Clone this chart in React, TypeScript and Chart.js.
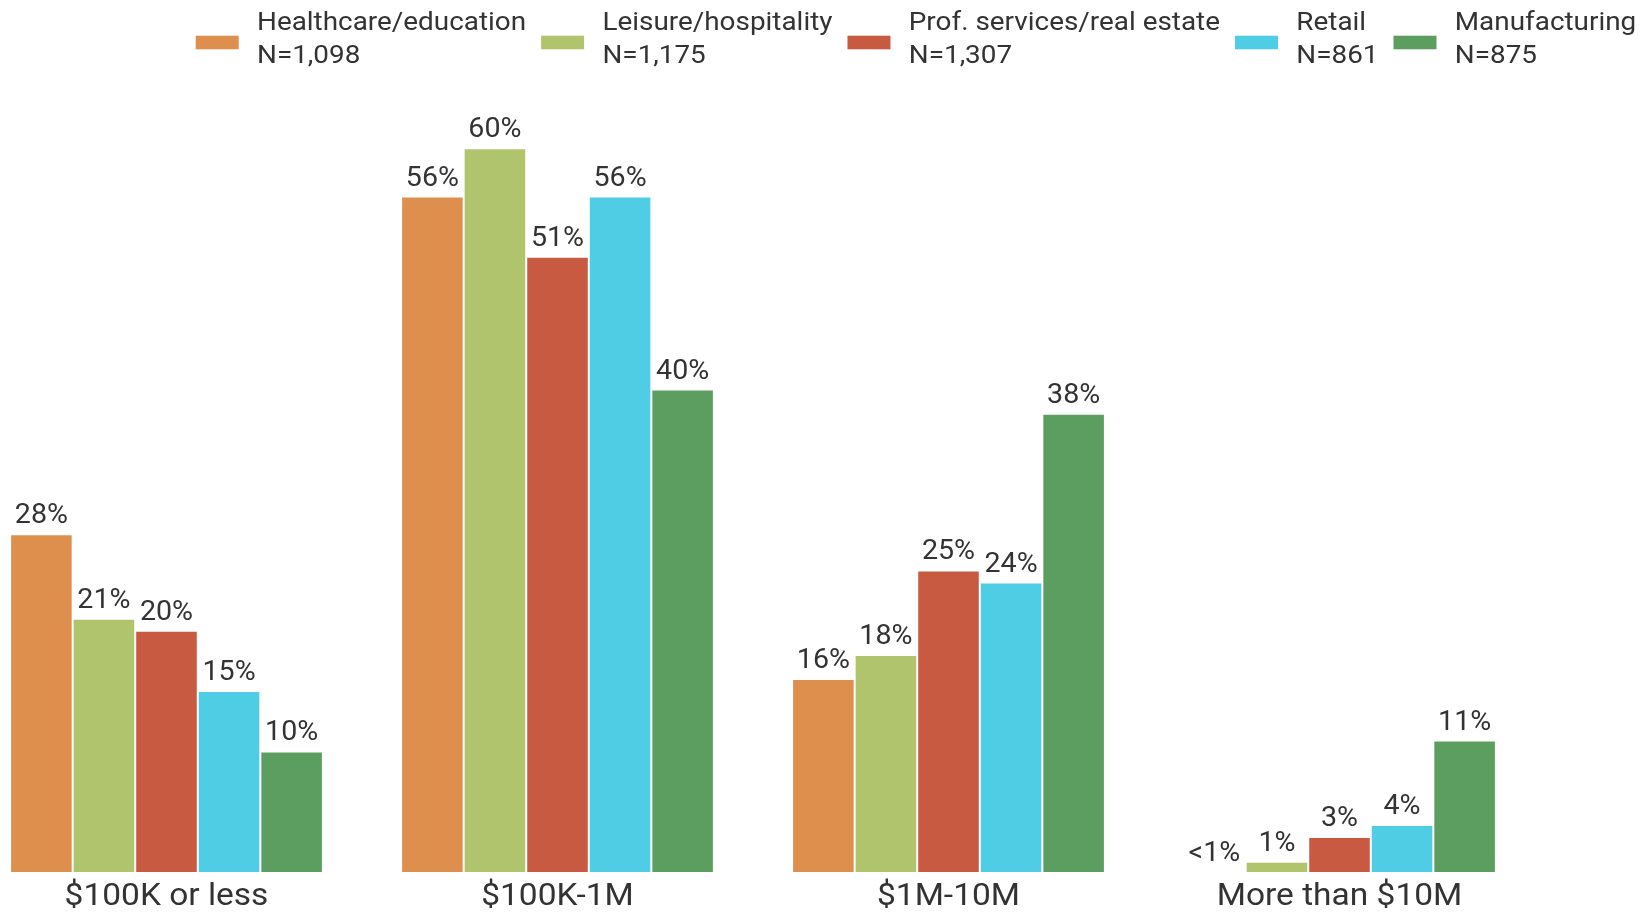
import React, { useEffect, useRef } from 'react';
import { Chart, registerables } from 'chart.js';

Chart.register(...registerables);

const categories = ['$100K or less', '$100K-1M', '$1M-10M', 'More than $10M'];
const seriesNames = ['Healthcare/education', 'Leisure/hospitality', 'Prof. services/real estate', 'Retail', 'Manufacturing'];
const seriesN = ['N=1,098', 'N=1,175', 'N=1,307', 'N=861', 'N=875'];
const healthcare = [28, 56, 16, 0];
const leisure = [21, 60, 18, 0.85];
const profServices = [20, 51, 25, 2.9];
const retail = [15, 56, 24, 3.9];
const manufacturing = [10, 40, 38, 10.9];
const seriesColors = ['#DE8F4D', '#B0C46E', '#C85A42', '#4FCDE4', '#5C9E60'];

const OFFX = 40;
const FONT = 'Roboto, "Noto Sans", sans-serif';
const TEXT = '#333333';

const fmt = (v: number) => (v < 0.5 ? '<1%' : Math.round(v) + '%');

function drawText(ctx: CanvasRenderingContext2D, text: string, x: number, y: number, align: 'left' | 'center', sx: number) {
  const w = ctx.measureText(text).width * sx;
  const left = align === 'center' ? x - w / 2 : x;
  ctx.save();
  ctx.translate(left, y);
  ctx.scale(sx, 1);
  ctx.textAlign = 'left';
  ctx.textBaseline = 'alphabetic';
  ctx.fillText(text, 0, 0);
  ctx.restore();
  return w;
}

const overlayPlugin = {
  id: 'overlay',
  afterDraw(chart: any) {
    const ctx: CanvasRenderingContext2D = chart.ctx;
    ctx.save();
    ctx.fillStyle = TEXT;
    // data labels
    ctx.font = `27px ${FONT}`;
    chart.data.datasets.forEach((ds: any, di: number) => {
      const meta = chart.getDatasetMeta(di);
      meta.data.forEach((el: any, i: number) => {
        drawText(ctx, fmt(ds.data[i]), el.x, el.y - 11, 'center', 1.06);
      });
    });
    // category labels
    const xs = chart.scales.x;
    ctx.font = `31px ${FONT}`;
    categories.forEach((c, i) => {
      drawText(ctx, c, xs.getPixelForValue(i), 904.5, 'center', 1.08);
    });
    // legend
    ctx.font = `26.5px ${FONT}`;
    let x = 195.7 + OFFX;
    seriesNames.forEach((name, i) => {
      ctx.fillStyle = seriesColors[i];
      ctx.fillRect(x, 35.7, 43, 13.6);
      ctx.fillStyle = TEXT;
      const w1 = drawText(ctx, name, x + 61.3, 30, 'left', 1.052);
      const w2 = drawText(ctx, seriesN[i], x + 61.3, 63.3, 'left', 1.052);
      x += 61.3 + Math.max(w1, w2) + 15;
    });
    ctx.restore();
  },
};

export default function App() {
  const ref = useRef<HTMLCanvasElement | null>(null);
  useEffect(() => {
    if (!ref.current) return;
    const all = [healthcare, leisure, profServices, retail, manufacturing];
    const chart = new Chart(ref.current, {
      type: 'bar',
      data: {
        labels: categories,
        datasets: all.map((d, i) => ({
          label: seriesNames[i],
          data: d,
          backgroundColor: seriesColors[i],
          borderColor: 'rgba(255,255,255,0.85)',
          borderWidth: 1,
          categoryPercentage: 0.8,
          barPercentage: 1,
        })),
      },
      options: {
        animation: false,
        responsive: true,
        maintainAspectRatio: false,
        layout: { padding: { left: 11, right: 105, top: 88, bottom: 42 } },
        plugins: { legend: { display: false }, tooltip: { enabled: false } },
        scales: {
          x: { display: false },
          y: { display: false, min: 0, max: 65 },
        },
      },
      plugins: [overlayPlugin],
    });
    return () => chart.destroy();
  }, []);
  return (
    <div style={{ position: 'absolute', left: -OFFX, top: 0, width: 1640 + OFFX, height: 914 }}>
      <canvas ref={ref} />
    </div>
  );
}
